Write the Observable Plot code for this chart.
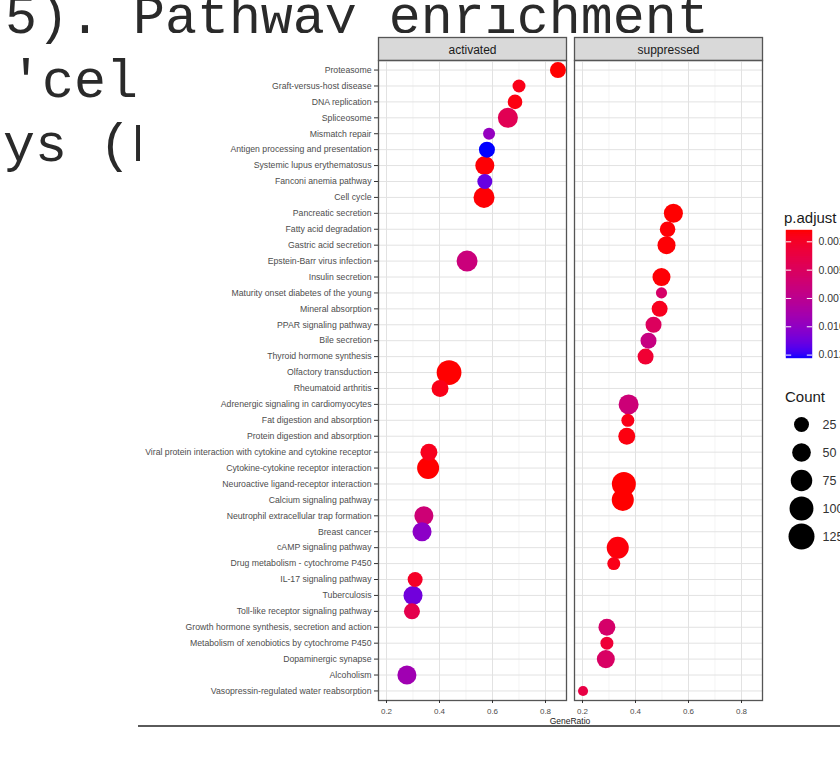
<!DOCTYPE html>
<html><head><meta charset="utf-8">
<script src="https://cdn.jsdelivr.net/npm/d3@7"></script>
<script src="https://cdn.jsdelivr.net/npm/@observablehq/plot@0.6"></script>
<style>
html,body{margin:0;padding:0;width:840px;height:763px;overflow:hidden;background:#fff;}
#page{position:relative;width:840px;height:763px;overflow:hidden;}
.lg{font-family:"Liberation Sans",Arial,sans-serif;color:#1a1a1a;white-space:nowrap;}
</style></head><body><div id="page"></div>
<script>
// ---------- data ----------
const pathways = [
  "Proteasome","Graft-versus-host disease","DNA replication","Spliceosome","Mismatch repair",
  "Antigen processing and presentation","Systemic lupus erythematosus","Fanconi anemia pathway","Cell cycle",
  "Pancreatic secretion","Fatty acid degradation","Gastric acid secretion","Epstein-Barr virus infection",
  "Insulin secretion","Maturity onset diabetes of the young","Mineral absorption","PPAR signaling pathway",
  "Bile secretion","Thyroid hormone synthesis","Olfactory transduction","Rheumatoid arthritis",
  "Adrenergic signaling in cardiomyocytes","Fat digestion and absorption","Protein digestion and absorption",
  "Viral protein interaction with cytokine and cytokine receptor","Cytokine-cytokine receptor interaction",
  "Neuroactive ligand-receptor interaction","Calcium signaling pathway","Neutrophil extracellular trap formation",
  "Breast cancer","cAMP signaling pathway","Drug metabolism - cytochrome P450","IL-17 signaling pathway",
  "Tuberculosis","Toll-like receptor signaling pathway","Growth hormone synthesis, secretion and action",
  "Metabolism of xenobiotics by cytochrome P450","Dopaminergic synapse","Alcoholism",
  "Vasopressin-regulated water reabsorption"
];
const A = "activated", S = "suppressed";
const signs = [A,A,A,A,A,A,A,A,A, S,S,S,A,S,S,S,S,S,S,A,A, S,S,S,A,A,S,S,A,A,S,S,A,A,A,S,S,S,A,S];
const geneRatio = [0.847,0.700,0.685,0.658,0.587,0.579,0.571,0.571,0.568,
  0.543,0.521,0.517,0.504,0.498,0.498,0.491,0.468,0.449,0.438,0.436,0.402,
  0.374,0.371,0.367,0.360,0.357,0.356,0.352,0.341,0.334,0.333,0.318,0.308,
  0.300,0.296,0.292,0.292,0.288,0.277,0.202];
const counts = [31,15,23,61,11,31,53,25,70,
  53,28,45,70,45,8,31,31,31,31,110,37,
  61,15,37,37,80,101,80,53,53,80,15,25,
  53,31,37,15,45,53,5];
const pAdjust = [0.0015,0.0020,0.0018,0.0045,0.0098,0.0128,0.0016,0.0115,0.0016,
  0.0015,0.0016,0.0016,0.0065,0.0016,0.0055,0.0022,0.0050,0.0068,0.0030,0.0015,0.0020,
  0.0063,0.0020,0.0018,0.0022,0.0015,0.0015,0.0015,0.0062,0.0102,0.0017,0.0020,0.0025,
  0.0112,0.0042,0.0056,0.0032,0.0053,0.0092,0.0038];
const panels = ["activated","suppressed"];
const xTicks = [0.2,0.4,0.6,0.8];
const xMinor = [0.3,0.5,0.7];
const colorBreaks = [0.0025,0.005,0.0075,0.01,0.0125];
const countBreaks = [25,50,75,100,125];
const bgLines = ["5). Pathway enrichment","'cel","ys (F"];

// ---------- build ----------
const rows = pathways.map((p,i)=>({pathway:p, sign:signs[i], ratio:geneRatio[i], count:counts[i], padj:pAdjust[i]}));
const [xmin,xmax] = d3.extent(geneRatio);
const xpad = 0.05*(xmax-xmin);
const xDomain = [xmin-xpad, xmax+xpad];
const pExt = d3.extent(pAdjust);
const colorOpt = {type:"linear", domain:pExt, range:["red","blue"], interpolate:"lab"};
const rOpt = {type:"sqrt", domain:[25,125], range:[7.5,13]};
const FONT = '"Liberation Sans", Arial, sans-serif';

const page = document.getElementById("page");
function place(el, left, top){ el.style.position="absolute"; el.style.left=left+"px"; el.style.top=top+"px"; page.appendChild(el); return el; }

// background document text
const NS = "http://www.w3.org/2000/svg";
const bg = document.createElementNS(NS,"svg");
bg.setAttribute("width",840); bg.setAttribute("height",763);
const bgPos = [[5,33],[10,97],[3,161]];
bgLines.forEach((t,i)=>{
  const tx = document.createElementNS(NS,"text");
  tx.setAttribute("x",bgPos[i][0]); tx.setAttribute("y",bgPos[i][1]);
  tx.setAttribute("font-family",'"Courier New","Liberation Mono",monospace');
  tx.setAttribute("font-size","53.3"); tx.setAttribute("fill","#2a2a2a");
  tx.textContent = t; bg.appendChild(tx);
});
place(bg,0,0);

const W = 700, H = 694, MT = 27, MB = 27;
const main = Plot.plot({
  width:W, height:H,
  marginLeft:237, marginRight:78, marginTop:MT, marginBottom:MB,
  style:{background:"white", fontFamily:FONT, maxWidth:"none", overflow:"visible"},
  fx:{domain:panels, paddingInner:0.042, paddingOuter:0, label:null},
  x:{domain:xDomain, label:null},
  y:{domain:pathways, padding:0.6, label:null},
  r:rOpt,
  color:colorOpt,
  marks:[
    // facet strips: a frame pushed up into the top margin
    Plot.frame({fill:"#d9d9d9", stroke:"#555", strokeWidth:1.3, insetTop:-(MT-4), insetBottom:H-MT-MB}),
    Plot.axisFx({anchor:"top", label:null, tickSize:0, tickPadding:7, fontSize:12, fill:"#1a1a1a"}),
    Plot.gridX({ticks:xMinor, stroke:"#ededed", strokeOpacity:1, strokeWidth:0.6}),
    Plot.gridX({ticks:xTicks, stroke:"#e2e2e2", strokeOpacity:1, strokeWidth:1}),
    Plot.gridY({stroke:"#e2e2e2", strokeOpacity:1, strokeWidth:1}),
    Plot.frame({stroke:"#555", strokeWidth:1.3}),
    Plot.dot(rows, {x:"ratio", y:"pathway", fx:"sign", r:"count", fill:"padj"}),
    Plot.axisY({tickSize:4, tickPadding:3, fontSize:8.7, fill:"#4d4d4d", stroke:"#333", label:null}),
    Plot.axisX({ticks:xTicks, tickFormat:d3.format(".1f"), tickSize:3, tickPadding:5, fontSize:8, fill:"#4d4d4d", stroke:"#333", label:null})
  ]
});
place(main,140,33);

// x axis title
const xt = document.createElement("div");
xt.className="lg"; xt.textContent="GeneRatio";
Object.assign(xt.style,{width:"100px",textAlign:"center",fontSize:"8.5px",lineHeight:"10px",color:"#1a1a1a"});
place(xt,520,716);

// colour legend
const t1 = document.createElement("div"); t1.className="lg"; t1.textContent="p.adjust";
Object.assign(t1.style,{fontSize:"15px",lineHeight:"16px"}); place(t1,784,210);
const N = 64, step = (pExt[1]-pExt[0])/N;
const slices = d3.range(N).map(i=>pExt[0]+i*step);
const cbar = Plot.plot({
  width:60, height:140, marginLeft:6, marginRight:28, marginTop:6, marginBottom:6,
  style:{background:"transparent", fontFamily:FONT, maxWidth:"none"},
  x:{domain:[0,1], axis:null}, y:{domain:pExt, reverse:true, axis:null},
  color:colorOpt,
  marks:[
    Plot.rect(slices,{x1:0,x2:1,y1:d=>d,y2:d=>d+step,fill:d=>d+step/2,stroke:d=>d+step/2,strokeWidth:0.4}),
    Plot.ruleY(colorBreaks,{x1:0,x2:0.2,stroke:"white",strokeWidth:1}),
    Plot.ruleY(colorBreaks,{x1:0.8,x2:1,stroke:"white",strokeWidth:1}),
    Plot.text(colorBreaks,{x:1,y:d=>d,text:d=>d.toFixed(4),dx:6,textAnchor:"start",fontSize:10.5,fill:"#333"})
  ]
});
place(cbar,780,224);

// size legend
const t2 = document.createElement("div"); t2.className="lg"; t2.textContent="Count";
Object.assign(t2.style,{fontSize:"15px",lineHeight:"16px"}); place(t2,785,389);
const sleg = Plot.plot({
  width:60, height:140, marginLeft:21, marginRight:0, marginTop:14, marginBottom:14,
  style:{background:"transparent", fontFamily:FONT, maxWidth:"none"},
  x:{domain:[0,1], axis:null}, y:{type:"point", domain:countBreaks, padding:0, axis:null},
  r:rOpt,
  marks:[
    Plot.dot(countBreaks,{x:()=>0,y:d=>d,r:d=>d,fill:"black"}),
    Plot.text(countBreaks,{x:()=>0,y:d=>d,text:d=>String(d),dx:21,textAnchor:"start",fontSize:12.5,fill:"#333"})
  ]
});
place(sleg,780,410);

// page rule under the figure
const hr = document.createElement("div");
Object.assign(hr.style,{width:"702px",height:"2px",background:"#5a5a5a"});
place(hr,138,725);
</script></body></html>
